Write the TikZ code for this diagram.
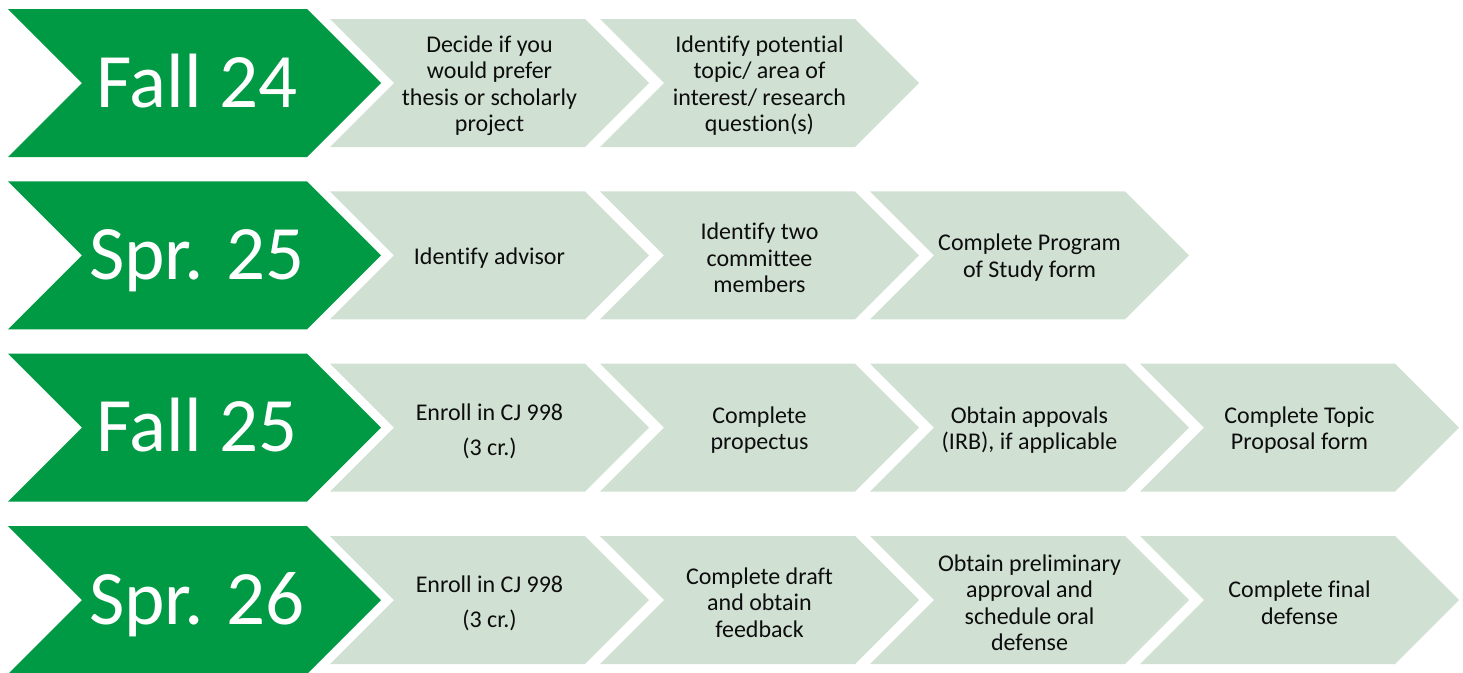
\documentclass[tikz,border=0pt]{standalone}
\usepackage{fontspec}
\setmainfont[Ligatures=NoCommon]{Carlito}
\definecolor{dgreen}{RGB}{0,154,68}
\definecolor{lgreen}{RGB}{208,224,211}
\definecolor{txtcol}{RGB}{13,13,13}
\newcommand\greenchev[1]{\fill[dgreen] (8,{#1-74}) -- (307,{#1-74}) -- (381,#1) -- (307,{#1+74}) -- (8,{#1+74}) -- (82,#1) -- cycle;}
\newcommand\lightchev[2]{\fill[lgreen] (#1,{#2-64}) -- ({#1+255},{#2-64}) -- ({#1+319},#2) -- ({#1+255},{#2+64}) -- (#1,{#2+64}) -- ({#1+64},#2) -- cycle;}
\begin{document}
\begin{tikzpicture}[x=1pt,y=-1pt,
  steptext/.style={align=center, font=\fontsize{24}{26.5}\selectfont, text=txtcol, inner sep=0pt, yshift=-2.5pt},
  widetext/.style={align=center, font=\fontsize{24}{35}\selectfont, text=txtcol, inner sep=0pt, yshift=-3.5pt},
  termtext/.style={font=\fontsize{77}{90}\selectfont, text=white, inner sep=0pt, anchor=base}]
\useasboundingbox (0,0) rectangle (1463,672);
\clip (0,0) rectangle (1463,672);
% shapes
\foreach \yc in {83,255.3,427.6,600} {\greenchev{\yc}}
\foreach \L in {330,600} {\lightchev{\L}{83}}
\foreach \L in {330,600,870} {\lightchev{\L}{255.3}}
\foreach \L in {330,600,870,1140} {\lightchev{\L}{427.6}}
\foreach \L in {330,600,870,1140} {\lightchev{\L}{600}}
% terms
\node[termtext] (t1) at (197,107) {Fall 24};
\node[termtext] (t2) at (197,279.3) {Spr. 25};
\node[termtext] (t3) at (197,451.6) {Fall 25};
\node[termtext] (t4) at (197,624) {Spr. 26};
% row 1
\node[steptext] (a1) at (489.5,83) {Decide if you\\would prefer\\thesis or scholarly\\project};
\node[steptext] (a2) at (759.5,83) {Identify potential\\topic/ area of\\interest/ research\\question(s)};
% row 2
\node[steptext] (b1) at (489.5,255.3) {Identify advisor};
\node[steptext] (b2) at (759.5,255.3) {Identify two\\committee\\members};
\node[steptext] (b3) at (1029.5,255.3) {Complete Program\\of Study form};
% row 3
\node[widetext] (c1) at (489.5,427.6) {Enroll in CJ 998\\(3 cr.)};
\node[steptext] (c2) at (759.5,427.6) {Complete\\propectus};
\node[steptext] (c3) at (1029.5,427.6) {Obtain appovals\\(IRB), if applicable};
\node[steptext] (c4) at (1299.5,427.6) {Complete Topic\\Proposal form};
% row 4
\node[widetext] (d1) at (489.5,600) {Enroll in CJ 998\\(3 cr.)};
\node[steptext] (d2) at (759.5,600) {Complete draft\\and obtain\\feedback};
\node[steptext] (d3) at (1029.5,600) {Obtain preliminary\\approval and\\schedule oral\\defense};
\node[steptext] (d4) at (1299.5,600) {Complete final\\defense};
\end{tikzpicture}
\end{document}
